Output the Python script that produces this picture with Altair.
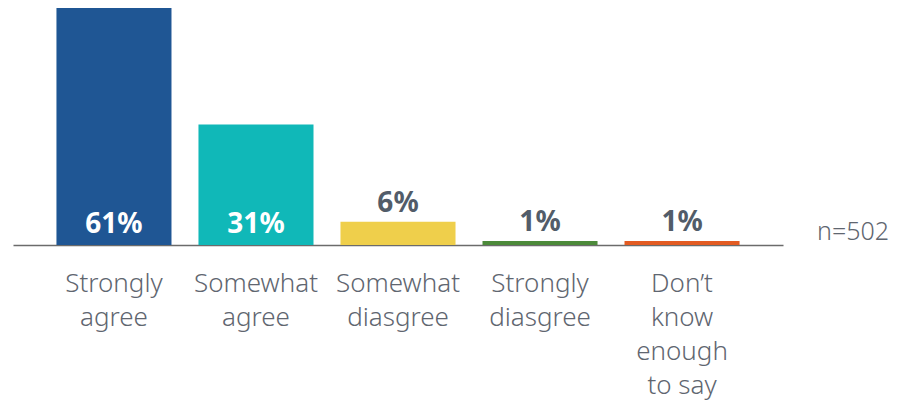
import altair as alt
import pandas as pd

categories = ["Strongly|agree", "Somewhat|agree", "Somewhat|diasgree", "Strongly|diasgree", "Don’t|know|enough|to say"]
values = [61, 31, 6, 1, 1]
labels = ["61%", "31%", "6%", "1%", "1%"]
colors = ["#1F5694", "#10B8B8", "#EFCF4B", "#4C8A3A", "#E35B22"]
note = "n=502"

df = pd.DataFrame({"cat": categories, "value": values, "label": labels, "color": colors})

FONT = "Noto Sans"

x = alt.X("cat:N", sort=categories, title=None,
          scale=alt.Scale(paddingInner=0.19, paddingOuter=0.306),
          axis=alt.Axis(labelExpr="split(datum.value, '|')", labelAngle=0,
                        ticks=False, domainColor="#6b6b6b", domainWidth=1.6,
                        labelFont=FONT, labelFontSize=26, labelLineHeight=34,
                        labelColor="#5F6670", labelPadding=25, labelBaseline="top",
                        labelFontWeight=300, labelLimit=300))
y = alt.Y("value:Q", scale=alt.Scale(domain=[0, 61]), axis=None)

base = alt.Chart(df)

bars = base.mark_bar().encode(x=x, y=y, color=alt.Color("color:N", scale=None))

inside = base.transform_filter("datum.value >= 20").mark_text(
    font=FONT, fontSize=28, fontWeight="bold", color="white",
    baseline="alphabetic", dy=-12
).encode(x=alt.X("cat:N", sort=categories), y=alt.value(237), text="label:N")

above = base.transform_filter("datum.value < 20").mark_text(
    font=FONT, fontSize=28, fontWeight="bold", color="#525C69",
    baseline="alphabetic", dy=-10
).encode(x=alt.X("cat:N", sort=categories), y=y, text="label:N")

n_text = alt.Chart(pd.DataFrame({"t": [note]})).mark_text(
    font=FONT, fontSize=25, fontWeight=300, color="#5F6670", align="left", baseline="alphabetic"
).encode(x=alt.value(804), y=alt.value(232), text="t:N")

chart = alt.layer(bars, inside, above, n_text).properties(
    width=770, height=237,
    padding={"left": 5, "top": 0, "right": 107, "bottom": 158},
    autosize=alt.AutoSizeParams(type="none")
).configure_view(stroke=None)

chart.save("out.html", embed_options={"renderer": "svg", "actions": False})
